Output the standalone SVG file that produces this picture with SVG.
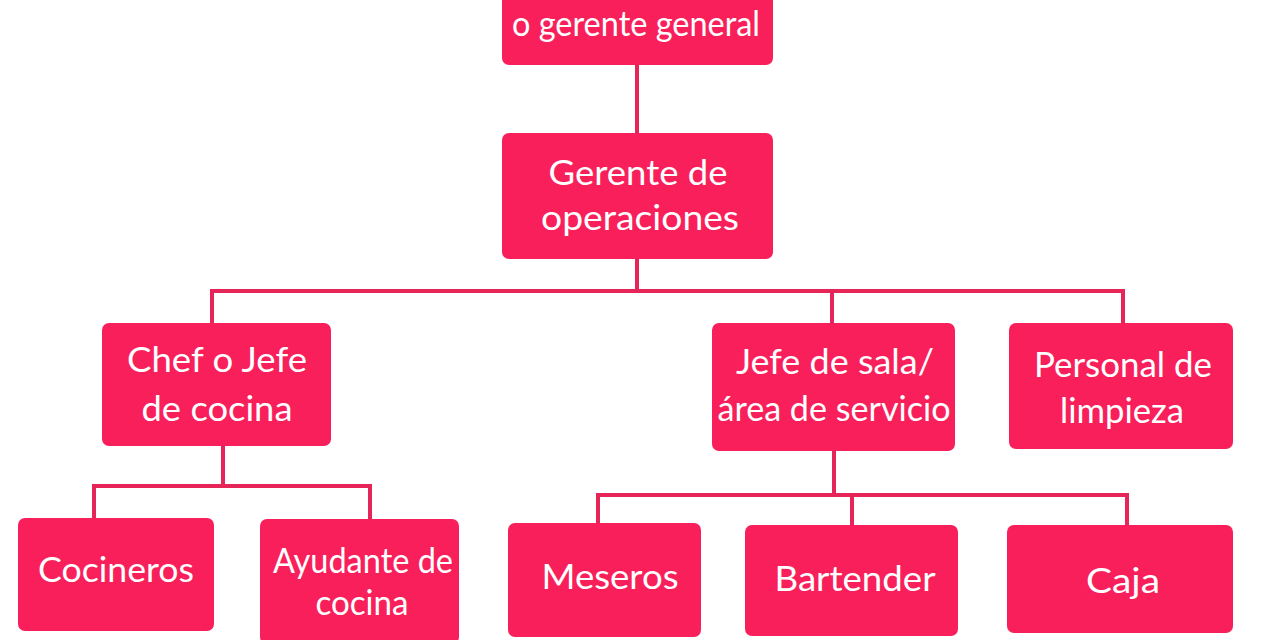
<svg xmlns="http://www.w3.org/2000/svg" width="1280" height="640" viewBox="0 0 1280 640">
<style>
.box{fill:#F91F5B}
.lbl{font-family:Lato,"Open Sans","Liberation Sans",sans-serif;fill:#fff;text-anchor:middle;font-size:35px}
.con{stroke:#E62658;stroke-width:4;fill:none}
</style>
<rect width="1280" height="640" fill="#fff"/>
<g id="connectors">
<path class="con" d="M637 65V133"/>
<path class="con" d="M637 259V291M212 323V291H1123V323M832 291V323"/>
<path class="con" d="M223 446V486M94 518V486H370V519"/>
<path class="con" d="M834 451V495M598 523V495H1127V525M852 495V525"/>
</g>
<g id="n-general"><rect class="box" x="502" y="-10" width="271" height="75" rx="7"/><text class="lbl" x="636" y="36" font-size="29" textLength="248" lengthAdjust="spacingAndGlyphs">o gerente general</text></g>
<g id="n-operaciones"><rect class="box" x="502" y="133" width="271" height="126" rx="7"/><text class="lbl" x="638" y="185" textLength="179" lengthAdjust="spacingAndGlyphs">Gerente de</text><text class="lbl" x="640" y="230" textLength="198" lengthAdjust="spacingAndGlyphs">operaciones</text></g>
<g id="n-chef"><rect class="box" x="102" y="323" width="229" height="123" rx="7"/><text class="lbl" x="217" y="372" textLength="180" lengthAdjust="spacingAndGlyphs">Chef o Jefe</text><text class="lbl" x="217" y="421" textLength="151" lengthAdjust="spacingAndGlyphs">de cocina</text></g>
<g id="n-sala"><rect class="box" x="712" y="323" width="243" height="128" rx="7"/><text class="lbl" x="835" y="374" textLength="198" lengthAdjust="spacingAndGlyphs">Jefe de sala/</text><text class="lbl" x="834" y="421" textLength="233" lengthAdjust="spacingAndGlyphs">área de servicio</text></g>
<g id="n-limpieza"><rect class="box" x="1009" y="323" width="224" height="126" rx="7"/><text class="lbl" x="1123" y="377" textLength="178" lengthAdjust="spacingAndGlyphs">Personal de</text><text class="lbl" x="1122" y="423" textLength="124" lengthAdjust="spacingAndGlyphs">limpieza</text></g>
<g id="n-cocineros"><rect class="box" x="18" y="518" width="196" height="113" rx="7"/><text class="lbl" x="116" y="582" textLength="156" lengthAdjust="spacingAndGlyphs">Cocineros</text></g>
<g id="n-ayudante"><rect class="box" x="260" y="519" width="199" height="125" rx="7"/><text class="lbl" x="363" y="573" textLength="180" lengthAdjust="spacingAndGlyphs">Ayudante de</text><text class="lbl" x="362" y="615" textLength="93" lengthAdjust="spacingAndGlyphs">cocina</text></g>
<g id="n-meseros"><rect class="box" x="508" y="523" width="193" height="114" rx="7"/><text class="lbl" x="610" y="589" textLength="137" lengthAdjust="spacingAndGlyphs">Meseros</text></g>
<g id="n-bartender"><rect class="box" x="745" y="525" width="213" height="111" rx="7"/><text class="lbl" x="855" y="591" textLength="161" lengthAdjust="spacingAndGlyphs">Bartender</text></g>
<g id="n-caja"><rect class="box" x="1007" y="525" width="226" height="108" rx="7"/><text class="lbl" x="1123" y="593" textLength="74" lengthAdjust="spacingAndGlyphs">Caja</text></g>
</svg>
